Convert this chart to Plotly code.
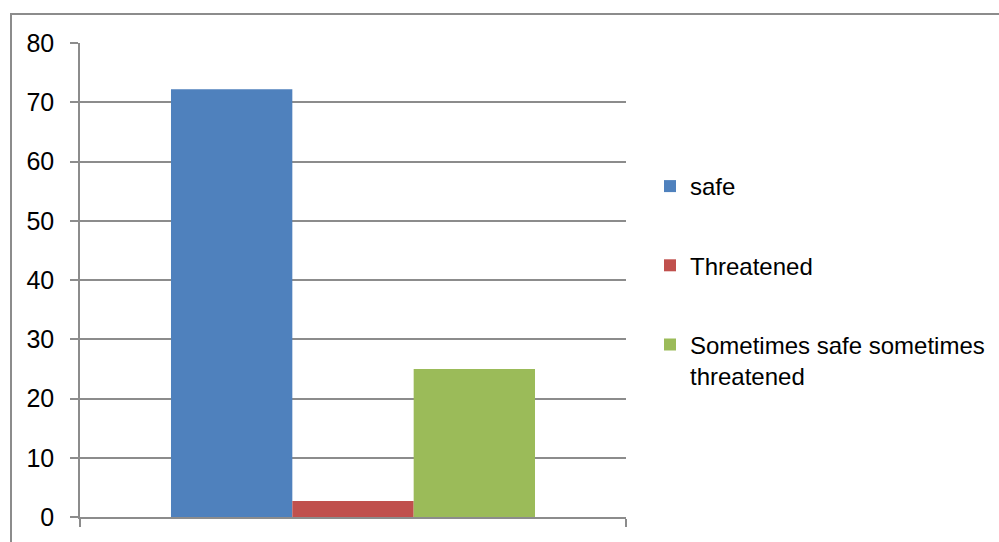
import plotly.graph_objects as go

categories = [""]
series_names = ["safe", "Threatened", "Sometimes safe sometimes<br>threatened"]
series_values = [[72.2], [2.7], [25.0]]
series_colors = ["#4F81BD", "#C0504D", "#9BBB59"]
y_ticks = [0, 10, 20, 30, 40, 50, 60, 70, 80]

W, H = 999, 542
L, R, T, B = 80, 373, 43, 25
pw, ph = W - L - R, H - T - B

fig = go.Figure()
for i, (name, vals, col) in enumerate(zip(series_names, series_values, series_colors)):
    fig.add_trace(go.Bar(x=categories, y=vals, name=name, marker_color=col,
                         marker_line_width=0, legendgroup=f"g{i}"))

font = dict(family="Liberation Sans, Arial, sans-serif", size=24, color="#000000")
grey = "#8c8c8c"

fig.update_layout(
    width=W, height=H,
    margin=dict(l=L, r=R, t=T, b=B, autoexpand=False),
    paper_bgcolor="white", plot_bgcolor="white",
    barmode="group", bargap=0.3333, bargroupgap=0,
    font=font,
    showlegend=True,
    legend=dict(xref="container", yref="container", x=650 / W, y=1 - 164 / H,
                xanchor="left", yanchor="top",
                tracegroupgap=45, valign="top", font=font, bgcolor="rgba(0,0,0,0)"),
    xaxis=dict(type="category", showticklabels=False, tickson="boundaries",
               ticks="outside", ticklen=8, tickcolor=grey, tickwidth=1.5,
               showline=True, linecolor=grey, linewidth=2, showgrid=False, zeroline=False),
    yaxis=dict(range=[0, 80], tickvals=y_ticks, ticks="outside", ticklen=8,
               tickcolor=grey, tickwidth=1.5, showline=True, linecolor=grey, linewidth=1.5,
               showgrid=True, gridcolor=grey, gridwidth=1.5, zeroline=False,
               ticklabelstandoff=11, tickfont=dict(family=font["family"], size=25, color="#000000")),
    shapes=[dict(type="rect", xref="paper", yref="paper",
                 x0=(11 - L) / pw, x1=(1010 - L) / pw,
                 y0=(H - B - 560) / ph, y1=(H - B - 14) / ph,
                 line=dict(color=grey, width=2), fillcolor="rgba(0,0,0,0)", layer="below")],
)

fig.write_html("out.html")
